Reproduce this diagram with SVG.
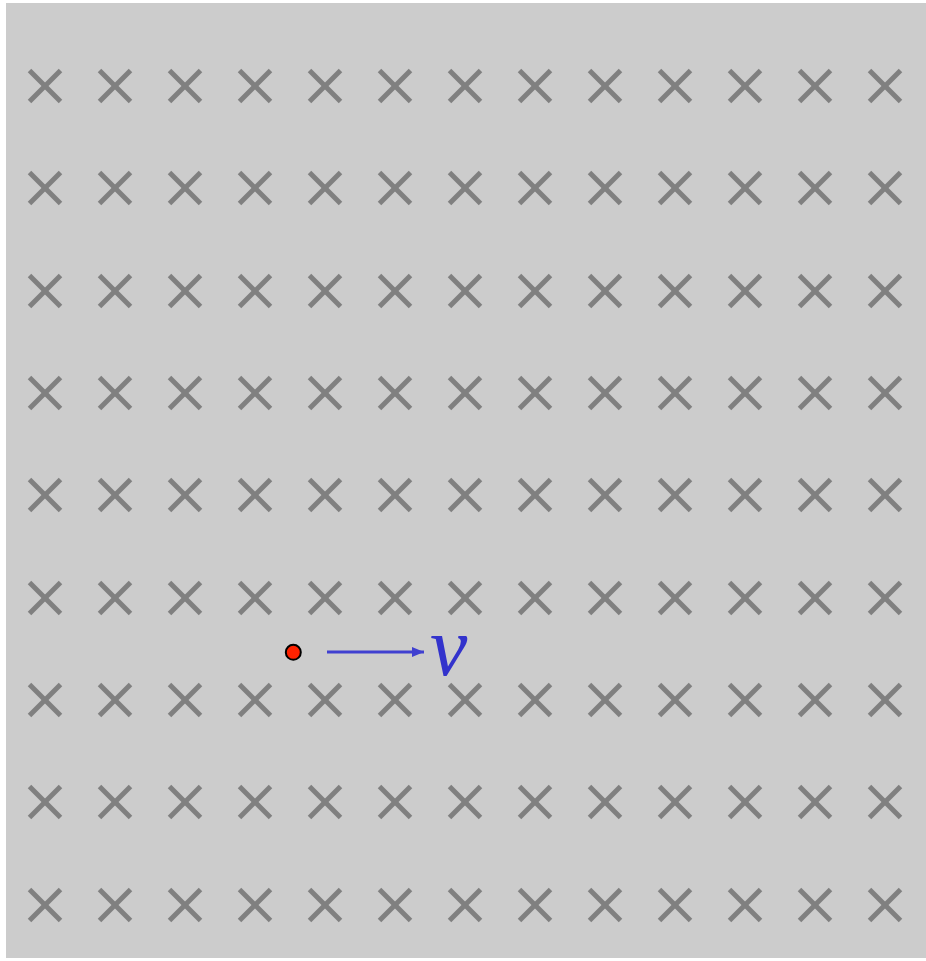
<svg xmlns="http://www.w3.org/2000/svg" width="926" height="961" viewBox="0 0 926 961">
<defs>
<style>
.v{font-family:"Liberation Serif",serif;font-style:italic;fill:#3333cc;font-size:84px;}
</style>
<g id="cross" stroke="#808080" stroke-width="5"><line x1="-15.5" y1="-15.5" x2="15.5" y2="15.5"/><line x1="-15.5" y1="15.5" x2="15.5" y2="-15.5"/></g>
<marker id="ah" markerWidth="12" markerHeight="10" refX="12" refY="5" orient="auto" markerUnits="userSpaceOnUse"><path d="M0,0 L12,5 L0,10 Z" fill="#4040d0"/></marker>
</defs>
<rect x="6" y="3" width="920" height="955" fill="#cccccc"/>
<g id="field">
<g id="row1"><use href="#cross" x="45" y="86"/><use href="#cross" x="115" y="86"/><use href="#cross" x="185" y="86"/><use href="#cross" x="255" y="86"/><use href="#cross" x="325" y="86"/><use href="#cross" x="395" y="86"/><use href="#cross" x="465" y="86"/><use href="#cross" x="535" y="86"/><use href="#cross" x="605" y="86"/><use href="#cross" x="675" y="86"/><use href="#cross" x="745" y="86"/><use href="#cross" x="815" y="86"/><use href="#cross" x="885" y="86"/></g>
<g id="row2"><use href="#cross" x="45" y="188"/><use href="#cross" x="115" y="188"/><use href="#cross" x="185" y="188"/><use href="#cross" x="255" y="188"/><use href="#cross" x="325" y="188"/><use href="#cross" x="395" y="188"/><use href="#cross" x="465" y="188"/><use href="#cross" x="535" y="188"/><use href="#cross" x="605" y="188"/><use href="#cross" x="675" y="188"/><use href="#cross" x="745" y="188"/><use href="#cross" x="815" y="188"/><use href="#cross" x="885" y="188"/></g>
<g id="row3"><use href="#cross" x="45" y="291"/><use href="#cross" x="115" y="291"/><use href="#cross" x="185" y="291"/><use href="#cross" x="255" y="291"/><use href="#cross" x="325" y="291"/><use href="#cross" x="395" y="291"/><use href="#cross" x="465" y="291"/><use href="#cross" x="535" y="291"/><use href="#cross" x="605" y="291"/><use href="#cross" x="675" y="291"/><use href="#cross" x="745" y="291"/><use href="#cross" x="815" y="291"/><use href="#cross" x="885" y="291"/></g>
<g id="row4"><use href="#cross" x="45" y="393"/><use href="#cross" x="115" y="393"/><use href="#cross" x="185" y="393"/><use href="#cross" x="255" y="393"/><use href="#cross" x="325" y="393"/><use href="#cross" x="395" y="393"/><use href="#cross" x="465" y="393"/><use href="#cross" x="535" y="393"/><use href="#cross" x="605" y="393"/><use href="#cross" x="675" y="393"/><use href="#cross" x="745" y="393"/><use href="#cross" x="815" y="393"/><use href="#cross" x="885" y="393"/></g>
<g id="row5"><use href="#cross" x="45" y="495"/><use href="#cross" x="115" y="495"/><use href="#cross" x="185" y="495"/><use href="#cross" x="255" y="495"/><use href="#cross" x="325" y="495"/><use href="#cross" x="395" y="495"/><use href="#cross" x="465" y="495"/><use href="#cross" x="535" y="495"/><use href="#cross" x="605" y="495"/><use href="#cross" x="675" y="495"/><use href="#cross" x="745" y="495"/><use href="#cross" x="815" y="495"/><use href="#cross" x="885" y="495"/></g>
<g id="row6"><use href="#cross" x="45" y="598"/><use href="#cross" x="115" y="598"/><use href="#cross" x="185" y="598"/><use href="#cross" x="255" y="598"/><use href="#cross" x="325" y="598"/><use href="#cross" x="395" y="598"/><use href="#cross" x="465" y="598"/><use href="#cross" x="535" y="598"/><use href="#cross" x="605" y="598"/><use href="#cross" x="675" y="598"/><use href="#cross" x="745" y="598"/><use href="#cross" x="815" y="598"/><use href="#cross" x="885" y="598"/></g>
<g id="row7"><use href="#cross" x="45" y="700"/><use href="#cross" x="115" y="700"/><use href="#cross" x="185" y="700"/><use href="#cross" x="255" y="700"/><use href="#cross" x="325" y="700"/><use href="#cross" x="395" y="700"/><use href="#cross" x="465" y="700"/><use href="#cross" x="535" y="700"/><use href="#cross" x="605" y="700"/><use href="#cross" x="675" y="700"/><use href="#cross" x="745" y="700"/><use href="#cross" x="815" y="700"/><use href="#cross" x="885" y="700"/></g>
<g id="row8"><use href="#cross" x="45" y="802"/><use href="#cross" x="115" y="802"/><use href="#cross" x="185" y="802"/><use href="#cross" x="255" y="802"/><use href="#cross" x="325" y="802"/><use href="#cross" x="395" y="802"/><use href="#cross" x="465" y="802"/><use href="#cross" x="535" y="802"/><use href="#cross" x="605" y="802"/><use href="#cross" x="675" y="802"/><use href="#cross" x="745" y="802"/><use href="#cross" x="815" y="802"/><use href="#cross" x="885" y="802"/></g>
<g id="row9"><use href="#cross" x="45" y="905"/><use href="#cross" x="115" y="905"/><use href="#cross" x="185" y="905"/><use href="#cross" x="255" y="905"/><use href="#cross" x="325" y="905"/><use href="#cross" x="395" y="905"/><use href="#cross" x="465" y="905"/><use href="#cross" x="535" y="905"/><use href="#cross" x="605" y="905"/><use href="#cross" x="675" y="905"/><use href="#cross" x="745" y="905"/><use href="#cross" x="815" y="905"/><use href="#cross" x="885" y="905"/></g>
</g>
<g id="charge"><circle cx="293.3" cy="652.3" r="7.5" fill="#ff2200" stroke="#000" stroke-width="2"/></g>
<g id="connectors"><line x1="327" y1="652" x2="424" y2="652" stroke="#4040d0" stroke-width="3" marker-end="url(#ah)"/></g>
<g id="label"><text class="v" x="430" y="675">v</text></g>
</svg>
